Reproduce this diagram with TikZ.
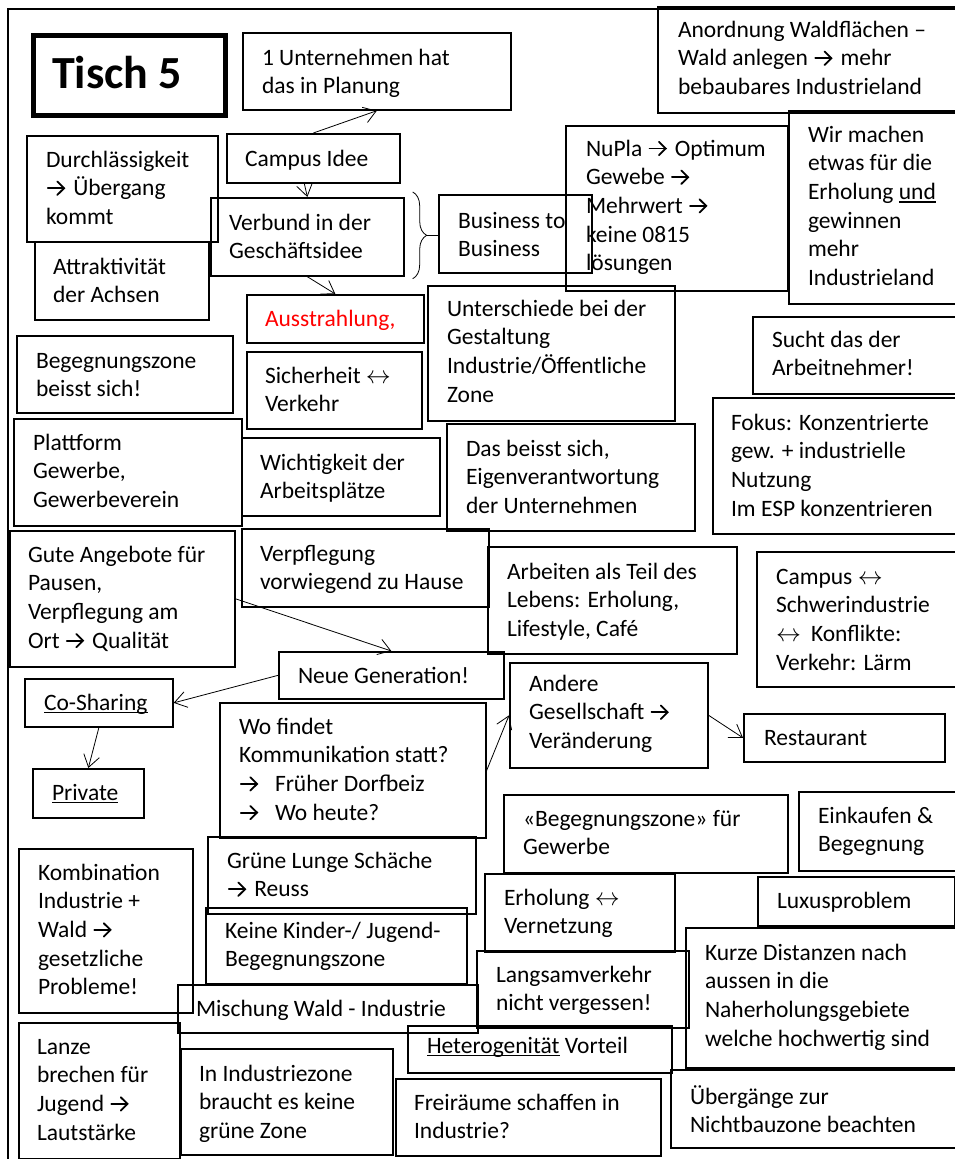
\documentclass[tikz,border=0pt]{standalone}
\usepackage{fontspec}
\setmainfont{Carlito}
\usetikzlibrary{arrows.meta,decorations.pathreplacing}

\definecolor{alert}{RGB}{255,0,0}
% inline arrow glyph with an open chevron head
\newcommand\arr{\kern1pt\tikz[baseline=0pt,x=1pt,y=1pt,line width=1.8pt,line cap=round,line join=miter]{%
  \draw (0.8,7.5) -- (16.5,7.5); \draw (10.2,14.2) -- (17,7.5) -- (10.2,0.8);}\kern3pt}
\newcommand\lr{$\leftrightarrow$}
\newcommand\ulin[1]{\setbox0\hbox{#1}\rlap{\rule[-3.2pt]{\wd0}{1.5pt}}\box0\relax}

% box: name, x1, y1, x2, y2 (pixel grid, y downwards)
\newcommand\card[5]{%
  \node[box, minimum width={#4pt-#2pt}, minimum height={#5pt-#3pt},
        anchor=north west] (#1) at (#2,#3) {};}
% text block: name, x, first baseline, text, extra style
\newcommand\says[5]{%
  \node[txt,#5] (#1) at (#2,{#3-20.09}) {\strut#4};}

\begin{document}
\begin{tikzpicture}[x=1pt,y=-1pt,
  box/.style={draw, rectangle, line width=1.7pt, inner sep=0pt},
  txt/.style={anchor=north west, inner sep=0pt, outer sep=0pt, align=left,
              font=\fontsize{23.5}{28.7}\selectfont},
  link/.style={line width=0.8pt, -{Straight Barb[length=12pt,width=16pt]}},
  bracket/.style={line width=0.8pt, decorate, decoration={brace, amplitude=14pt}}]

\useasboundingbox (0,0) rectangle (955,1159);
\clip (0,0) rectangle (955,1159);

% sheet border
\draw[line width=1.8pt] (8,1175) -- (8,9) -- (975,9);

% title
\node[box, line width=4.5pt, minimum width=192pt, minimum height=80pt,
      anchor=north west] (tisch) at (31,33) {};
\node[anchor=base west, inner sep=0pt, font=\fontsize{46}{55}\selectfont\bfseries]
  (tischtext) at (52,88) {Tisch 5};

% boxes
\card{unt}{242}{32}{510}{109}
\card{anord}{657}{6}{975}{112}
\card{campus}{226}{133}{399}{182}
\card{durch}{26}{135}{217}{241}
\card{attr}{34}{241}{208}{319}
\card{verbund}{210}{197}{403}{275}
\card{busi}{438}{194}{591}{272}
\card{nupla}{565}{125}{787}{290}
\card{wir}{788}{110}{975}{303}
\card{unter}{427}{285}{674}{420}
\card{aus}{246}{294}{423}{342}
\card{begz}{16}{335}{232}{412}
\card{sich}{246}{351}{421}{428}
\card{platt}{13}{418}{241}{525}
\card{wicht}{241}{437}{439}{515}
\card{dasb}{446}{423}{694}{530}
\card{sucht}{752}{316}{975}{393}
\card{fokus}{712}{397}{975}{533}
\card{gute}{9}{530}{234}{666}
\card{verpf}{241}{528}{488}{606}
\card{arbeit}{487}{546}{736}{653}
\card{campk}{756}{551}{975}{686}
\card{neue}{278}{651}{503}{698}
\card{cosh}{24}{678}{172}{726}
\card{priv}{32}{768}{143}{817}
\card{wo}{219}{702}{485}{837}
\card{andere}{509}{662}{707}{767}
\card{rest}{743}{713}{944}{761}
\card{begg}{503}{794}{787}{872}
\card{eink}{798}{791}{975}{870}
\card{gruen}{207}{836}{475}{913}
\card{keine}{205}{907}{466}{983}
\card{erh}{484}{873}{674}{951}
\card{lux}{757}{876}{954}{925}
\card{kurze}{685}{927}{975}{1067}
\card{langs}{476}{950}{688}{1027}
\card{kombi}{18}{848}{192}{1012}
\card{misch}{177}{984}{477}{1032}
\card{hetero}{407}{1025}{671}{1072}
\card{lanze}{18}{1022}{179}{1158}
\card{inind}{180}{1048}{392}{1154}
\card{frei}{395}{1078}{660}{1155}
\card{uebg}{670}{1069}{975}{1147}

% texts
\says{unt-t}{262}{65}{1 Unternehmen hat\\das in Planung}{}
\says{anord-t}{678}{37}{Anordnung Waldflächen –\\Wald anlegen \arr{} mehr\\bebaubares Industrieland}{}
\says{campus-t}{245}{166}{Campus Idee}{}
\says{durch-t}{46}{167}{Durchlässigkeit\\\arr{} Übergang\\kommt}{}
\says{attr-t}{53}{274}{Attraktivität\\der Achsen}{}
\says{verbund-t}{229}{230}{Verbund in der\\Geschäftsidee}{}
\says{busi-t}{458}{228}{Business to\\Business}{}
\says{nupla-t}{586}{156}{NuPla \arr{} Optimum\\Gewebe \arr\\Mehrwert \arr\\keine 0815\\lösungen}{}
\says{wir-t}{808}{142}{Wir machen\\etwas für die\\Erholung \ulin{und}\\gewinnen\\mehr\\Industrieland}{}
\says{unter-t}{447}{316}{Unterschiede bei der\\Gestaltung\\Industrie/Öffentliche\\Zone}{}
\says{aus-t}{265}{326}{Ausstrahlung,}{text=alert}
\says{begz-t}{36}{368}{Begegnungszone\\beisst sich!}{}
\says{sich-t}{265}{383}{Sicherheit \lr\\Verkehr}{}
\says{platt-t}{33}{450}{Plattform\\Gewerbe,\\Gewerbeverein}{}
\says{wicht-t}{260}{470}{Wichtigkeit der\\Arbeitsplätze}{}
\says{dasb-t}{466}{456}{Das beisst sich,\\Eigenverantwortung\\der Unternehmen}{}
\says{sucht-t}{772}{347}{Sucht das der\\Arbeitnehmer!}{}
\says{fokus-t}{731}{430}{Fokus: Konzentrierte\\gew. + industrielle\\Nutzung\\Im ESP konzentrieren}{}
\says{gute-t}{28}{562}{Gute Angebote für\\Pausen,\\Verpflegung am\\Ort \arr{} Qualität}{}
\says{verpf-t}{260}{561}{Verpflegung\\vorwiegend zu Hause}{}
\says{arbeit-t}{507}{579}{Arbeiten als Teil des\\Lebens: Erholung,\\Lifestyle, Café}{}
\says{campk-t}{776}{584}{Campus \lr\\Schwerindustrie\\\makebox[35pt][l]{\lr}Konflikte:\\Verkehr: Lärm}{}
\says{neue-t}{298}{683}{Neue Generation!}{}
\says{cosh-t}{44}{710}{\ulin{Co-Sharing}}{}
\says{priv-t}{52}{800}{\ulin{Private}}{}
\says{wo-t}{239}{734}{Wo findet\\Kommunikation statt?\\\makebox[36pt][l]{\arr}Früher Dorfbeiz\\\makebox[36pt][l]{\arr}Wo heute?}{}
\says{andere-t}{529}{691}{Andere\\Gesellschaft \arr\\Veränderung}{}
\says{rest-t}{764}{745}{Restaurant}{}
\says{begg-t}{523}{826}{«Begegnungszone» für\\Gewerbe}{}
\says{eink-t}{818}{823}{Einkaufen \&\\Begegnung}{}
\says{gruen-t}{227}{868}{Grüne Lunge Schäche\\\arr{} Reuss}{}
\says{keine-t}{225}{938}{Keine Kinder-/ Jugend-\\Begegnungszone}{}
\says{erh-t}{504}{905}{Erholung \lr\\Vernetzung}{}
\says{lux-t}{777}{908}{Luxusproblem}{}
\says{kurze-t}{705}{960}{Kurze Distanzen nach\\aussen in die\\Naherholungsgebiete\\welche hochwertig sind}{}
\says{langs-t}{496}{982}{Langsamverkehr\\nicht vergessen!}{}
\says{kombi-t}{38}{880}{Kombination\\Industrie +\\Wald \arr\\gesetzliche\\Probleme!}{}
\says{misch-t}{196}{1016}{Mischung Wald - Industrie}{}
\says{hetero-t}{427}{1053}{\ulin{Heterogenität} Vorteil}{}
\says{lanze-t}{37}{1054}{Lanze\\brechen für\\Jugend \arr\\Lautstärke}{}
\says{inind-t}{199}{1081}{In Industriezone\\braucht es keine\\grüne Zone}{}
\says{frei-t}{414}{1110}{Freiräume schaffen in\\Industrie?}{}
\says{uebg-t}{690}{1104}{Übergänge zur\\Nichtbauzone beachten}{}

% brace grouping Verbund with Business to Business
\draw[bracket] ([xshift=8pt,yshift=5pt]verbund.north east) -- ([xshift=8pt,yshift=-2pt]verbund.south east);
\coordinate (bracetip) at ([xshift=22pt,yshift=1.5pt]verbund.east);
\draw[line width=0.8pt] (bracetip) -- (bracetip -| busi.west);

% arrows
\draw[link] (campus.north) -- (unt.south);
\draw[link] ([xshift=-9pt]campus.south) -- (verbund.north);
\draw[link] (verbund.south) -- (aus.north);
\draw[link] (gute.east) -- (neue.north);
\draw[link] (neue.west) -- (cosh.east);
\draw[link] (cosh.south) -- (priv.north);
\draw[link] (wo.east) -- (andere.west);
\draw[link] (andere.east) -- (rest.west);
\end{tikzpicture}
\end{document}
